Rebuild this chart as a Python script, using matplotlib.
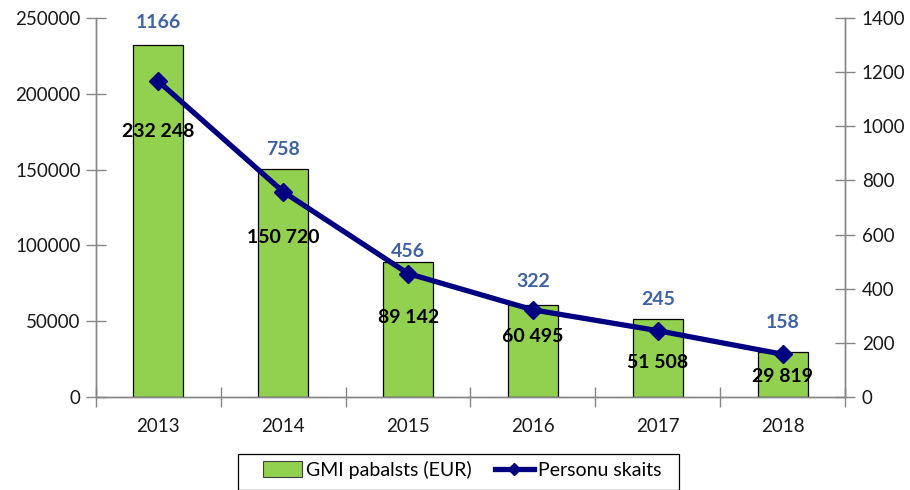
import matplotlib
matplotlib.use("Agg")
import matplotlib.pyplot as plt
import numpy as np
from matplotlib.patches import Patch, Rectangle
from matplotlib.lines import Line2D

years = ["2013", "2014", "2015", "2016", "2017", "2018"]
gmi_eur = [232248, 150720, 89142, 60495, 51508, 29819]
persons = [1166, 758, 456, 322, 245, 158]
eur_labels = ["232 248", "150 720", "89 142", "60 495", "51 508", "29 819"]

# label offsets (pixels)
person_label_off = [22, 19, 10, 24, 19, 29]
eur_label_off = [-50, -46, -44, -27, -32, -22]

plt.rcParams['font.family'] = ['Lato', 'DejaVu Sans']

fig = plt.figure(figsize=(9.1, 4.9), dpi=100)
ax = fig.add_axes([96/910, 1-397/490, (845-96)/910, (397-18)/490])
ax2 = ax.twinx()

x = np.arange(len(years))
ax.bar(x, gmi_eur, width=0.4, color="#92D050", edgecolor="black", linewidth=0.9, zorder=2)
ax.set_xlim(-0.5, 5.5)
ax.set_ylim(0, 250000)
ax.set_yticks(np.arange(0, 250001, 50000))
ax.set_yticklabels([str(v) for v in range(0, 250001, 50000)])

ax2.plot(x, persons, color="#000080", linewidth=3.8, marker="D", markersize=9,
         markerfacecolor="#000080", markeredgecolor="#000080", zorder=5)
ax2.set_ylim(0, 1400)
ax2.set_yticks(np.arange(0, 1401, 200))

spine_c = "#868686"
for a in (ax, ax2):
    a.spines["top"].set_visible(False)
    for s in ("left", "right", "bottom"):
        a.spines[s].set_color(spine_c)
        a.spines[s].set_linewidth(1.0)

ax.tick_params(axis="y", direction="inout", length=14, width=1, color=spine_c,
               labelsize=13.5, pad=4, labelcolor="#1a1a1a")
ax2.tick_params(axis="y", direction="inout", length=14, width=1, color=spine_c,
                labelsize=13.5, pad=5, labelcolor="#1a1a1a")
ax.set_xticks(x)
ax.set_xticklabels(years)
ax.tick_params(axis="x", which="major", length=0, labelsize=13.5, pad=15, labelcolor="#1a1a1a")
ax.set_xticks(np.arange(-0.5, 5.6, 1.0), minor=True)
ax.tick_params(axis="x", which="minor", direction="inout", length=14, width=1, color=spine_c)

for i in range(len(years)):
    ax.annotate(str(persons[i]), xy=(x[i], gmi_eur[i]), xytext=(0, person_label_off[i]),
                textcoords="offset pixels", ha="center", va="center",
                fontsize=14, fontweight="bold", color="#3D62A5", zorder=6,
                annotation_clip=False)
    ax2.annotate(eur_labels[i], xy=(x[i], persons[i]), xytext=(0, eur_label_off[i]),
                 textcoords="offset pixels", ha="center", va="center",
                 fontsize=14, fontweight="bold", color="black", zorder=7)

# legend box
fig.patches.append(Rectangle((238/910, 0), (679-238)/910, (490-454)/490 + 0.0, transform=fig.transFigure,
                             facecolor="white", edgecolor="black", linewidth=0.9))
handles = [Patch(facecolor="#92D050", edgecolor="#404040", linewidth=0.8),
           Line2D([0], [0], color="#000080", linewidth=3.8, marker="D", markersize=6)]
leg = fig.legend(handles, ["GMI pabalsts (EUR)", "Personu skaits"], loc="center",
                 bbox_to_anchor=(462/910, 1-470/490), ncol=2, frameon=False,
                 fontsize=14, handlelength=2.0, handleheight=0.9, columnspacing=1.2,
                 handletextpad=0.2, borderpad=0.0, borderaxespad=0)

fig.savefig("out.png", dpi=100)
